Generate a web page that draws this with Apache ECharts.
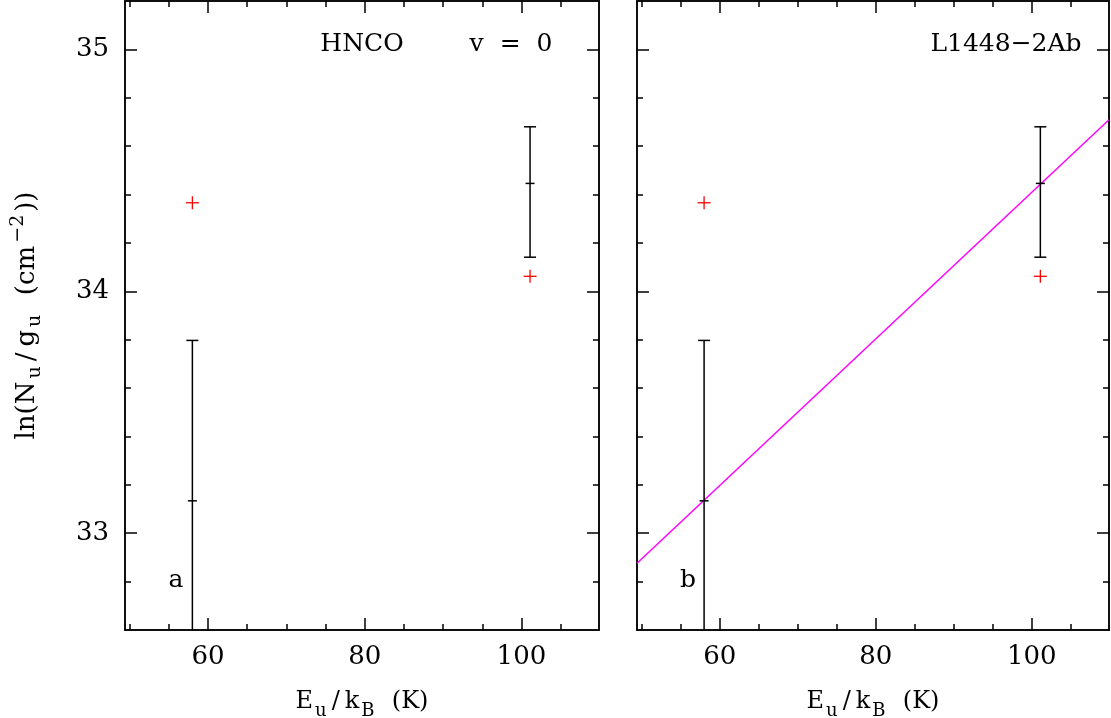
<!DOCTYPE html>
<html>
<head>
<meta charset="utf-8">
<script src="https://cdn.jsdelivr.net/npm/echarts@6/dist/echarts.min.js"></script>
<style>
  html, body { margin: 0; padding: 0; background: #fff; }
  #chart { width: 1111px; height: 718px; }
</style>
</head>
<body>
<div id="chart"></div>
<script>
// rotational diagram data, HNCO v=0 towards L1448-2Ab
const eUp = [58.0, 101.1]            // E_u/k_B (K)
const lnCenter = [33.134, 34.446]    // error bar centres
const lnLow = [32.47, 34.141]
const lnHigh = [33.797, 34.68]
const redE = [58.0, 101.1]           // red crosses
const redLn = [34.366, 34.062]
const fitE = [49.4, 109.9]           // fitted line (panel b)
const fitLn = [32.876, 34.709]

const xMajor = [60, 80, 100]
const xMinor = [50, 55, 65, 70, 75, 85, 90, 95, 105]
const yMajor = [33, 34, 35]
const yMinor = [32.8, 33.2, 33.4, 33.6, 33.8, 34.2, 34.4, 34.6, 34.8]

const XMIN = 49.4, XMAX = 109.9
const YMIN = 32.6, YMAX = 35.2
const FONT = 'DejaVu Serif'

// rich text styles for axis titles (sub / superscripts)
function richFor(main, small, pad) {
  return {
    n: { fontSize: main, fontFamily: FONT, color: '#000', lineHeight: 36, verticalAlign: 'middle', padding: [0, pad] },
    sl: { fontSize: main, fontFamily: FONT, color: '#000', lineHeight: 36, verticalAlign: 'middle', padding: [0, 4] },
    s: { fontSize: small, fontFamily: FONT, color: '#000', lineHeight: small, verticalAlign: 'bottom', padding: [0, 1] },
    p: { fontSize: small, fontFamily: FONT, color: '#000', lineHeight: small, verticalAlign: 'top', padding: [0, 1] }
  }
}

const lineStyle = { color: '#000', width: 1.5 }

function makeAxis(kind, grid, position, ticks, len, withLabel) {
  return {
    type: 'value',
    gridIndex: grid,
    position,
    min: kind === 'x' ? XMIN : YMIN,
    max: kind === 'x' ? XMAX : YMAX,
    axisLine: { show: true, onZero: false, lineStyle },
    axisTick: { show: true, inside: true, length: len, customValues: ticks, lineStyle },
    axisLabel: {
      show: withLabel,
      customValues: ticks,
      fontFamily: FONT,
      fontSize: 26,
      color: '#000',
      margin: kind === 'x' ? 14 : 16
    },
    splitLine: { show: false }
  }
}

const xAxis = []
const yAxis = []
for (let g = 0; g < 2; g++) {
  const xb = makeAxis('x', g, 'bottom', xMajor, 12, true)
  xb.name = '{n|E}{s|u}{sl|/}{n|k}{s|B}{n|  (K)}'
  xb.nameLocation = 'middle'
  xb.nameGap = 54
  xb.nameTextStyle = { rich: richFor(24, 18, 1) }
  xAxis.push(xb,
    makeAxis('x', g, 'bottom', xMinor, 6, false),
    makeAxis('x', g, 'top', xMajor, 12, false),
    makeAxis('x', g, 'top', xMinor, 6, false))

  const yl = makeAxis('y', g, 'left', yMajor, 12, g === 0)
  if (g === 0) {
    yl.name = '{n|ln(N}{s|u}{sl|/}{n|g}{s|u}{n|  (cm}{p|−2}{n|))}'
    yl.nameLocation = 'middle'
    yl.nameGap = 80
    yl.nameTextStyle = { rich: richFor(26, 19, 2) }
  }
  yAxis.push(yl,
    makeAxis('y', g, 'left', yMinor, 6, false),
    makeAxis('y', g, 'right', yMajor, 12, false),
    makeAxis('y', g, 'right', yMinor, 6, false))
}

function errorBarSeries(g) {
  return {
    type: 'custom',
    xAxisIndex: g * 4,
    yAxisIndex: g * 4,
    data: eUp.map((e, i) => [e, lnCenter[i], lnLow[i], lnHigh[i]]),
    renderItem: (params, api) => {
      const cs = params.coordSys
      const top = cs.y, bottom = cs.y + cs.height
      const c = api.coord([api.value(0), api.value(1)])
      const lo = api.coord([api.value(0), api.value(2)])
      const hi = api.coord([api.value(0), api.value(3)])
      const x = c[0]
      const yLo = Math.min(lo[1], bottom)
      const yHi = Math.max(hi[1], top)
      const style = { stroke: '#000', lineWidth: 1.5 }
      const children = [
        { type: 'line', shape: { x1: x, y1: yHi, x2: x, y2: yLo }, style },
        { type: 'line', shape: { x1: x - 4.5, y1: c[1], x2: x + 4.5, y2: c[1] }, style }
      ]
      if (lo[1] <= bottom) children.push({ type: 'line', shape: { x1: x - 6, y1: lo[1], x2: x + 6, y2: lo[1] }, style })
      if (hi[1] >= top) children.push({ type: 'line', shape: { x1: x - 6, y1: hi[1], x2: x + 6, y2: hi[1] }, style })
      return { type: 'group', children }
    },
    z: 3
  }
}

function crossSeries(g) {
  return {
    type: 'custom',
    xAxisIndex: g * 4,
    yAxisIndex: g * 4,
    data: redE.map((e, i) => [e, redLn[i]]),
    renderItem: (params, api) => {
      const p = api.coord([api.value(0), api.value(1)])
      const style = { stroke: '#ff0000', lineWidth: 1.3 }
      return {
        type: 'group',
        children: [
          { type: 'line', shape: { x1: p[0] - 6.5, y1: p[1], x2: p[0] + 6.5, y2: p[1] }, style },
          { type: 'line', shape: { x1: p[0], y1: p[1] - 6.5, x2: p[0], y2: p[1] + 6.5 }, style }
        ]
      }
    },
    z: 4
  }
}

const series = [
  errorBarSeries(0),
  crossSeries(0),
  errorBarSeries(1),
  crossSeries(1),
  {
    type: 'line',
    xAxisIndex: 4,
    yAxisIndex: 4,
    data: fitE.map((e, i) => [e, fitLn[i]]),
    showSymbol: false,
    symbol: 'none',
    lineStyle: { color: '#ff00ff', width: 1.5 },
    silent: true,
    z: 2
  }
]

const textStyle = (text, x, y) => ({
  type: 'text',
  x,
  y,
  style: {
    text,
    fontFamily: FONT,
    fontSize: 25,
    fill: '#000',
    align: 'center',
    verticalAlign: 'middle'
  }
})

const option = {
  animation: false,
  backgroundColor: '#fff',
  grid: [
    { left: 125, top: 1, width: 474, height: 629, outerBoundsMode: 'none' },
    { left: 637, top: 1, width: 472, height: 629, outerBoundsMode: 'none' }
  ],
  xAxis,
  yAxis,
  series,
  graphic: [
    textStyle('HNCO', 362, 44),
    textStyle('v  =  0', 511, 44),
    textStyle('L1448−2Ab', 1006, 44),
    textStyle('a', 176, 580),
    textStyle('b', 688, 580)
  ]
}

const chart = echarts.init(document.getElementById('chart'))
chart.setOption(option)
window.addEventListener('resize', () => chart.resize())
</script>
</body>
</html>
